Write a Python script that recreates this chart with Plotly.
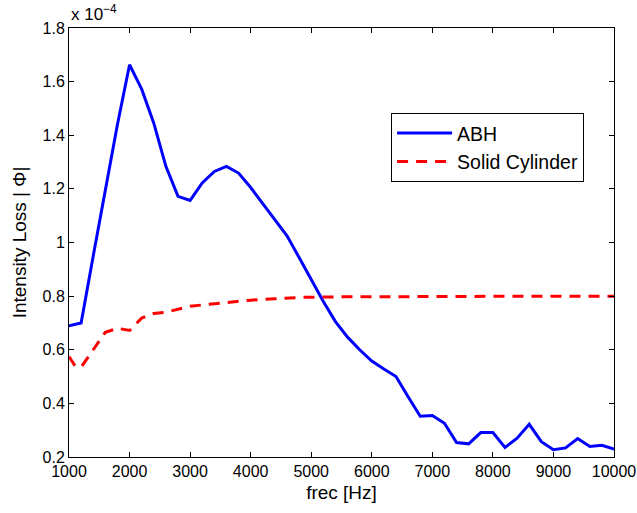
import plotly.graph_objects as go

# Frequency (Hz) and intensity loss (units of 1e-4)
abh_freq = [1000, 1200, 1400, 1600, 1800, 2000, 2200, 2400, 2600, 2800, 3000,
            3200, 3400, 3600, 3800, 4000, 4200, 4400, 4600, 4800, 5000, 5200,
            5400, 5600, 5800, 6000, 6200, 6400, 6600, 6800, 7000, 7200, 7400,
            7600, 7800, 8000, 8200, 8400, 8600, 8800, 9000, 9200, 9400, 9600,
            9800, 10000]
abh_loss = [0.689, 0.70, 0.95, 1.19, 1.44, 1.663, 1.572, 1.445, 1.284, 1.172, 1.157,
            1.222, 1.265, 1.284, 1.259, 1.205, 1.145, 1.085, 1.025, 0.944, 0.861, 0.78,
            0.705, 0.647, 0.60, 0.558, 0.528, 0.50, 0.425, 0.352, 0.355, 0.326, 0.254,
            0.249, 0.291, 0.291, 0.236, 0.27, 0.322, 0.257, 0.227, 0.234, 0.269, 0.239,
            0.244, 0.23]

cyl_freq = [1000, 1100, 1200, 1400, 1600, 1800, 2000, 2200, 2400, 2600, 2800,
            3000, 3200, 3400, 3600, 3800, 4000, 4400, 4800, 5200, 6000, 7000,
            8000, 9000, 10000]
cyl_loss = [0.575, 0.54, 0.535, 0.60, 0.665, 0.68, 0.672, 0.718, 0.735, 0.74, 0.75,
            0.762, 0.767, 0.772, 0.777, 0.782, 0.785, 0.79, 0.795, 0.797, 0.798, 0.799,
            0.80, 0.80, 0.80]

x_ticks = [1000, 2000, 3000, 4000, 5000, 6000, 7000, 8000, 9000, 10000]
x_tick_text = ["1000", "2000", "3000", "4000", "5000", "6000", "7000", "8000", "9000", "10000"]
y_ticks = [0.2, 0.4, 0.6, 0.8, 1.0, 1.2, 1.4, 1.6, 1.8]
y_tick_text = ["0.2", "0.4", "0.6", "0.8", "1", "1.2", "1.4", "1.6", "1.8"]

FONT = "Liberation Sans, Arial, sans-serif"

fig = go.Figure()
fig.add_trace(go.Scatter(x=abh_freq, y=abh_loss, mode="lines", name="ABH",
                         line=dict(color="#0000FF", width=3)))
fig.add_trace(go.Scatter(x=cyl_freq, y=cyl_loss, mode="lines", name="Solid Cylinder",
                         line=dict(color="#FF0000", width=3, dash="11px,8px")))

fig.update_layout(
    width=637, height=513,
    margin=dict(l=69, r=23, t=28, b=56),
    paper_bgcolor="white", plot_bgcolor="white",
    font=dict(family=FONT, color="black", size=16),
    showlegend=True,
    legend=dict(x=0.591, y=0.802, xanchor="left", yanchor="top",
                bgcolor="white", bordercolor="black", borderwidth=1,
                font=dict(size=19.5, family=FONT), tracegroupgap=0,
                itemwidth=55),
    xaxis=dict(range=[1000, 10000], tickvals=x_ticks, ticktext=x_tick_text,
               automargin=False,
               ticks="inside", ticklen=5, tickcolor="black",
               showline=True, linecolor="black", linewidth=1, mirror="ticks",
               showgrid=False, zeroline=False,
               tickfont=dict(size=16, family=FONT),
               title=dict(text="frec [Hz]", font=dict(size=19, family=FONT), standoff=6)),
    yaxis=dict(range=[0.2, 1.8], tickvals=y_ticks, ticktext=y_tick_text,
               automargin=False,
               ticks="inside", ticklen=5, tickcolor="black",
               showline=True, linecolor="black", linewidth=1, mirror="ticks",
               showgrid=False, zeroline=False,
               tickfont=dict(size=16, family=FONT),
               title=dict(text="Intensity Loss | Φ|", font=dict(size=19, family=FONT), standoff=10)),
    annotations=[dict(text="x 10<sup>−4</sup>", xref="paper", yref="paper",
                      x=0.0, y=1.0, xanchor="left", yanchor="bottom",
                      showarrow=False, font=dict(size=17, family=FONT), yshift=2)],
)

fig.write_html("out.html")
